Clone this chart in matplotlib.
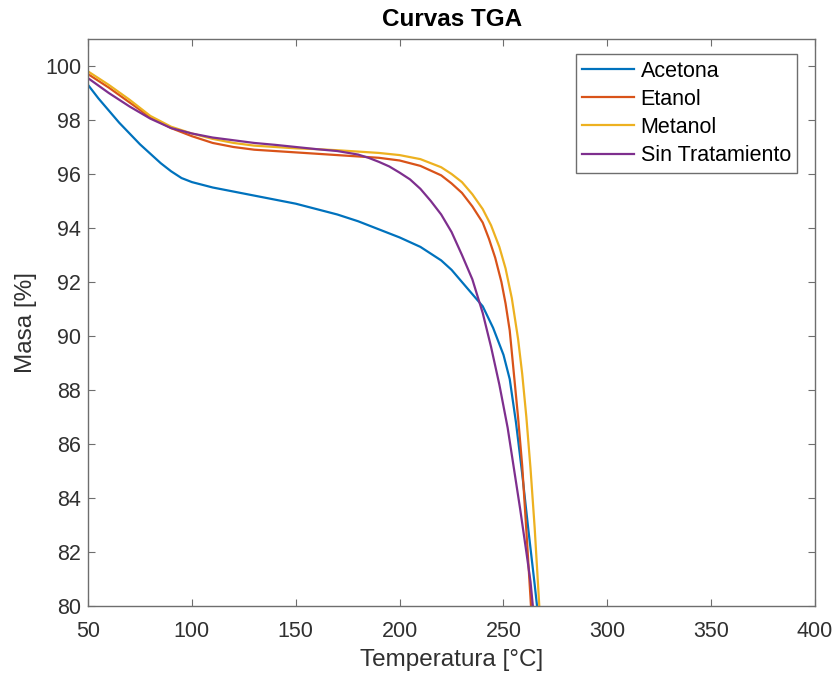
import matplotlib
matplotlib.use('Agg')
import matplotlib.pyplot as plt

plt.rcParams['font.family'] = ['Liberation Sans', 'DejaVu Sans']

# TGA curves (temperature in C, mass in %)
acetona_t = [50, 55, 60, 65, 70, 75, 80, 85, 90, 95, 100, 110, 120, 130, 140, 150, 160, 170,
             180, 190, 200, 210, 220, 225, 230, 235, 240, 245, 250, 253, 256, 259, 262, 265, 267]
acetona_m = [99.3, 98.8, 98.35, 97.9, 97.5, 97.1, 96.75, 96.4, 96.1, 95.85, 95.7, 95.5, 95.35,
             95.2, 95.05, 94.9, 94.7, 94.5, 94.25, 93.95, 93.65, 93.3, 92.8, 92.45, 92.0, 91.55,
             91.1, 90.3, 89.3, 88.4, 86.8, 84.9, 82.8, 80.8, 79.4]

etanol_t = [50, 60, 70, 80, 90, 100, 110, 120, 130, 140, 150, 160, 170, 180, 190, 200, 210,
            220, 225, 230, 235, 240, 243, 246, 249, 251, 253, 255, 257, 259, 261, 263, 264]
etanol_m = [99.7, 99.2, 98.65, 98.1, 97.7, 97.4, 97.15, 97.0, 96.9, 96.85, 96.8, 96.75, 96.7,
            96.65, 96.6, 96.5, 96.3, 95.95, 95.65, 95.3, 94.8, 94.2, 93.6, 92.9, 92.0, 91.2,
            90.2, 88.6, 87.0, 85.2, 82.8, 80.3, 79.0]

metanol_t = [50, 60, 70, 80, 90, 100, 110, 120, 130, 140, 150, 160, 170, 180, 190, 200, 210,
             220, 225, 230, 235, 240, 244, 248, 251, 254, 257, 259, 261, 263, 265, 267, 268]
metanol_m = [99.8, 99.3, 98.75, 98.15, 97.75, 97.5, 97.3, 97.15, 97.05, 97.0, 96.95, 96.92,
             96.88, 96.83, 96.78, 96.7, 96.55, 96.25, 96.0, 95.7, 95.25, 94.7, 94.1, 93.3, 92.5,
             91.4, 89.9, 88.6, 87.0, 85.1, 82.9, 80.3, 79.0]

sin_t = [50, 60, 70, 80, 90, 100, 110, 120, 130, 140, 150, 160, 170, 180, 185, 190, 195, 200,
         205, 210, 215, 220, 225, 230, 235, 240, 244, 248, 252, 255, 258, 261, 263, 265]
sin_m = [99.55, 99.0, 98.5, 98.05, 97.7, 97.5, 97.35, 97.25, 97.15, 97.08, 97.0, 96.92, 96.85,
         96.72, 96.6, 96.45, 96.28, 96.05, 95.8, 95.45, 95.0, 94.5, 93.85, 93.0, 92.1, 90.85,
         89.6, 88.2, 86.6, 85.1, 83.6, 82.0, 80.9, 79.3]

labels = ['Acetona', 'Etanol', 'Metanol', 'Sin Tratamiento']
colors = ['#0072BD', '#D95319', '#EDB120', '#7E2F8E']

fig = plt.figure(figsize=(8.36, 6.77), dpi=100)
ax = fig.add_axes([0.1053, 0.1049, 0.8697, 0.8375])

series = [(acetona_t, acetona_m), (etanol_t, etanol_m), (metanol_t, metanol_m), (sin_t, sin_m)]
for (t, m), lab, c in zip(series, labels, colors):
    ax.plot(t, m, color=c, linewidth=1.6, label=lab)

ax.set_xlim(50, 400)
ax.set_ylim(80, 101)
ax.set_xticks(range(50, 401, 50))
ax.set_yticks(range(80, 101, 2))
ax.tick_params(direction='in', top=True, right=True, labelsize=15.5, colors='#6e6e6e',
               labelcolor='#303030', length=5, width=0.8)
ax.tick_params(axis='x', pad=11)
ax.tick_params(axis='y', pad=5)
for sp in ax.spines.values():
    sp.set_color('#6e6e6e')
    sp.set_linewidth(1.0)

ax.set_xlabel('Temperatura [°C]', fontsize=17.5, color='#303030', labelpad=5)
ax.set_ylabel('Masa [%]', fontsize=17.5, color='#303030', labelpad=6)
ax.set_title('Curvas TGA', fontsize=17.5, fontweight='bold', color='#000000', pad=9)

leg = ax.legend(loc='upper right', bbox_to_anchor=(0.9755, 0.973), fontsize=15.5,
                fancybox=False, edgecolor='#6e6e6e', framealpha=1,
                handlelength=2.4, handletextpad=0.3, borderpad=0.3, labelspacing=0.33,
                borderaxespad=0.0)
leg.get_frame().set_linewidth(1.0)

fig.savefig('out.png', dpi=100)
